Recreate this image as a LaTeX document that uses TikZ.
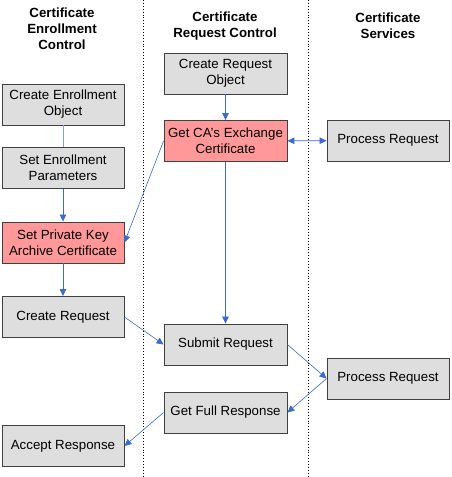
\documentclass[tikz,border=0pt]{standalone}
\usepackage{fontspec}
\setmainfont{Liberation Sans}
\usetikzlibrary{arrows.meta}
\definecolor{pinkfill}{HTML}{FF9999}
\definecolor{lineblue}{HTML}{3A6BD0}
\definecolor{paleblue}{HTML}{7F9FE0}
\begin{document}
\begin{tikzpicture}[x=1pt,y=-1pt,
 box/.style={draw=black!75, line width=0.9pt, fill=black!13, minimum width=122pt, minimum height=41pt, inner sep=0pt, align=center, font=\fontsize{13.3}{16}\selectfont},
 redbox/.style={box, fill=pinkfill},
 hdr/.style={align=center, font=\fontsize{13.3}{16}\selectfont\bfseries},
 conn/.style={draw=lineblue, line width=0.8pt, -{Triangle[length=7pt,width=6.5pt]}},
 thinconn/.style={conn, line width=0.6pt},
 sep/.style={draw=black, line width=0.9pt, dotted}
 ]
\useasboundingbox (0,0) rectangle (452,477);
\fill[white] (0,0) rectangle (452,477);
% lane separators
\draw[sep] (143,0) -- (143,477);
\draw[sep] (308,0) -- (308,477);
% headers
\node[hdr] (h1) at (62,29) {Certificate\\Enrollment\\Control};
\node[hdr] (h2) at (225,26) {Certificate\\Request Control};
\node[hdr] (h3) at (388,26) {Certificate\\Services};
% left column
\node[box] (ceo) at (63,104.5) {Create Enrollment\\Object};
\node[box] (sep) at (63,168) {Set Enrollment\\Parameters};
\node[redbox] (spk) at (63,242.5) {Set Private Key\\Archive Certificate};
\node[box] (cr) at (63,317) {Create Request};
\node[box] (ar) at (63,446) {Accept Response};
% middle column
\node[box, minimum width=123pt] (cro) at (225.5,73.5) {Create Request\\Object};
\node[redbox, minimum width=123pt] (gca) at (225.5,141) {Get CA's Exchange\\Certificate};
\node[box, minimum width=123pt] (sr) at (225.5,344.5) {Submit Request};
\node[box, minimum width=123pt] (gfr) at (225.5,412.5) {Get Full Response};
% right column
\node[box] (pr1) at (388,140.5) {Process Request};
\node[box] (pr2) at (388,378.5) {Process Request};
% connectors
\draw[draw=paleblue, line width=0.9pt] (ceo) -- (sep);
\draw[conn] (sep) -- (spk);
\draw[conn] (spk) -- (cr);
\draw[conn] (cro) -- (gca);
\draw[conn, {Triangle[length=7pt,width=6.5pt]}-{Triangle[length=7pt,width=6.5pt]}] (gca) -- (pr1);
\draw[thinconn] (gca.west) -- (spk.east);
\draw[conn] (gca) -- (sr);
\draw[thinconn] (cr.east) -- (sr.west);
\draw[thinconn] (sr.east) -- (pr2.west);
\draw[thinconn] (pr2.west) -- (gfr.east);
\draw[thinconn] (gfr.west) -- (ar.east);
\end{tikzpicture}
\end{document}
